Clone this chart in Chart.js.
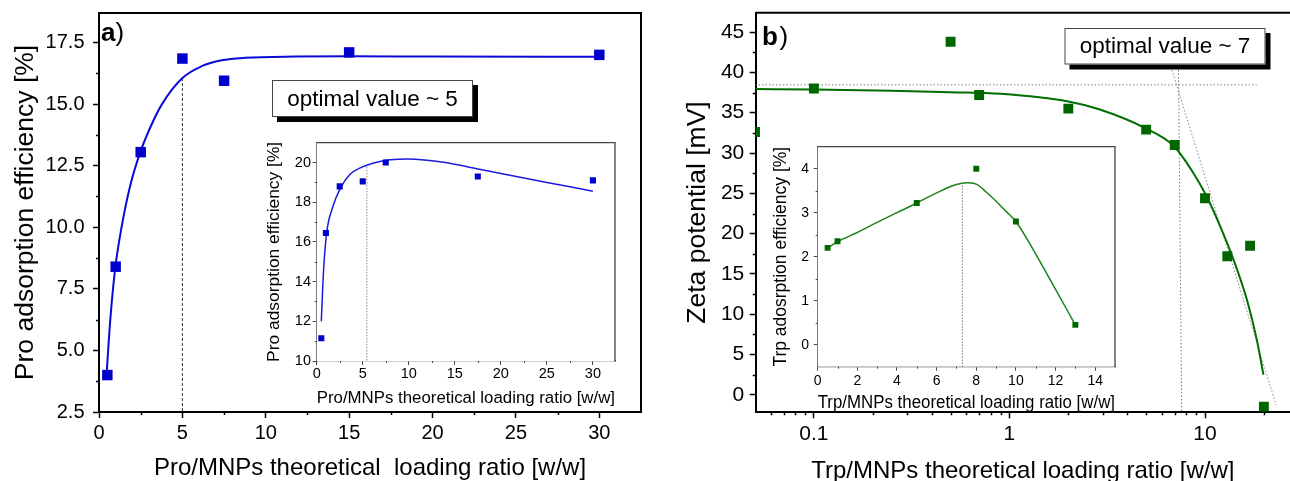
<!DOCTYPE html>
<html>
<head>
<meta charset="utf-8">
<title>Pro / Trp loading on MNPs</title>
<script src="https://cdn.jsdelivr.net/npm/chart.js@4.4.1/dist/chart.umd.min.js"></script>
<style>
  html, body { margin: 0; padding: 0; background: #fff; }
  body { position: relative; width: 1290px; height: 481px; overflow: hidden; }
  canvas { position: absolute; }
</style>
</head>
<body>
<canvas id="proChart" width="650" height="481" style="left:0;top:0"></canvas>
<canvas id="proInset" width="370" height="285" style="left:255px;top:130px"></canvas>
<canvas id="zetaChart" width="630" height="481" style="left:660px;top:0"></canvas>
<canvas id="trpInset" width="365" height="280" style="left:760px;top:135px"></canvas>
<script>
// a) Pro adsorption efficiency vs Pro/MNPs loading ratio
const proRatio = [0.5, 1, 2.5, 5, 7.5, 15, 30];
const proEfficiency = [4.0, 8.4, 13.05, 16.85, 15.95, 17.1, 17.0];
const proFitRatio = [0.46, 0.66, 0.96, 1.36, 1.86, 2.46, 3.06, 3.76, 5.0, 6.16, 7.36, 8.76, 11.76, 15, 20, 30.2];
const proFitEff = [4.07, 6.1, 8.27, 10.03, 11.66, 13.02, 14.03, 14.98, 16.06, 16.54, 16.78, 16.88, 16.93, 16.94, 16.93, 16.92];
const proOptimum = [5, 5];
const proOptimumEff = [16.06, 2.5];
const proXTicks = [0, 5, 10, 15, 20, 25, 30];
const proYTicks = [2.5, 5, 7.5, 10, 12.5, 15, 17.5];

// a) inset
const proInsetRatio = [0.5, 1, 2.5, 5, 7.5, 17.5, 30];
const proInsetEff = [11.15, 16.45, 18.8, 19.05, 20.0, 19.3, 19.1];
const proInsetFitRatio = [0.5, 0.75, 1.08, 1.7, 2.56, 3.6, 4.9, 6, 7, 8, 9.8, 12, 14, 17.5, 20, 25, 30];
const proInsetFitEff = [12.0, 14.6, 16.45, 17.7, 18.7, 19.4, 19.77, 19.95, 20.07, 20.14, 20.18, 20.12, 20.0, 19.68, 19.45, 19.0, 18.55];
const proInsetOptimum = [5.45, 5.45];
const proInsetOptimumEff = [19.78, 10];
const proInsetXTicks = [0, 5, 10, 15, 20, 25, 30];
const proInsetYTicks = [10, 12, 14, 16, 18, 20];

// b) zeta potential vs Trp/MNPs loading ratio (log x)
const trpRatio = [0.05, 0.1, 0.5, 0.7, 2, 5, 7, 10, 13, 17, 20];
const zeta = [32.6, 38.0, 43.8, 37.2, 35.5, 32.9, 31.0, 24.4, 17.2, 18.5, -1.45];
const zetaFitRatio = [0.05, 0.1, 0.25, 0.5, 0.9, 2, 2.9, 4.94, 6.9, 8.73, 10.2, 11.96, 14.0, 16.38, 18.42, 19.9];
const zetaFit = [37.93, 37.88, 37.72, 37.55, 37.35, 36.4, 35.4, 33.1, 30.9, 27.5, 24.6, 20.9, 16.75, 11.8, 6.8, 2.5];
const plateauRatio = [0.05, 18.4];
const plateauZeta = [38.45, 38.45];
const optimumRatio = [7.32, 7.6];
const optimumZeta = [40.3, -2.15];
const tangentRatio = [6.77, 23.1];
const tangentZeta = [40.3, -1.24];
const trpXTicks = [0.1, 1, 10];
const zetaYTicks = [0, 5, 10, 15, 20, 25, 30, 35, 40, 45];

// b) inset
const trpInsetRatio = [0.5, 1, 5, 8, 10, 13];
const trpInsetEff = [2.2, 2.35, 3.22, 4.0, 2.8, 0.45];
const trpInsetFitRatio = [0.5, 1, 2, 3, 4, 5, 6, 7, 7.5, 8, 8.5, 9, 9.5, 10, 11, 12, 13];
const trpInsetFit = [2.2, 2.34, 2.55, 2.78, 3.0, 3.22, 3.45, 3.64, 3.68, 3.65, 3.47, 3.26, 3.03, 2.8, 2.06, 1.26, 0.45];
const trpInsetOptimum = [7.3, 7.3];
const trpInsetOptimumEff = [3.62, -0.5];
const trpInsetXTicks = [0, 2, 4, 6, 8, 10, 12, 14];
const trpInsetYTicks = [0, 1, 2, 3, 4];

const FONT = "'Liberation Sans', Arial, Helvetica, sans-serif";
const BLUE = '#0000cc';
const GREEN = '#006600';

const toPts = (xs, ys) => xs.map((x, i) => ({ x: x, y: ys[i] }));

function markers(xs, ys, color, r, clip) {
  const ds = {
    data: toPts(xs, ys), showLine: false, pointStyle: 'rect',
    pointRadius: r, pointHoverRadius: r, pointBorderWidth: 0,
    backgroundColor: color, borderColor: color
  };
  if (clip !== undefined) ds.clip = clip;
  return ds;
}

function curve(xs, ys, color, width) {
  return {
    data: toPts(xs, ys), showLine: true, pointRadius: 0, pointHoverRadius: 0,
    borderColor: color, borderWidth: width, fill: false,
    cubicInterpolationMode: 'monotone'
  };
}

function dotted(xs, ys, color, dash) {
  return {
    data: toPts(xs, ys), showLine: true, pointRadius: 0, pointHoverRadius: 0,
    borderColor: color, borderWidth: 1, borderDash: dash, fill: false, tension: 0
  };
}

function axis(o) {
  const vertical = o.position === 'left';
  return {
    type: o.type || 'linear',
    position: o.position,
    min: o.min,
    max: o.max,
    afterBuildTicks: (s) => { s.ticks = o.ticks.map((v) => ({ value: v })); },
    afterFit: (s) => {
      if (vertical) s.width = o.size; else s.height = o.size;
      s.paddingTop = 0; s.paddingBottom = 0; s.paddingLeft = 0; s.paddingRight = 0;
    },
    border: { display: true, color: o.color, width: o.lineWidth },
    grid: {
      display: true, drawOnChartArea: false, drawTicks: true,
      tickLength: o.tickLength, tickWidth: o.tickWidth, tickColor: o.color, color: o.color
    },
    ticks: {
      autoSkip: false, maxRotation: 0, minRotation: 0, padding: o.tickPad, color: '#000',
      font: { family: FONT, size: o.tickSize },
      callback: o.format || ((v) => String(v))
    },
    title: {
      display: true, text: o.title, color: '#000',
      font: { family: FONT, size: o.titleSize, lineHeight: 1 },
      padding: vertical ? { top: o.titlePad, bottom: 0 } : { top: 0, bottom: o.titlePad }
    }
  };
}

// frame sides, minor ticks, panel letter and the "optimal value" note
const decor = {
  id: 'decor',
  beforeDatasetsDraw(chart, args, o) {
    if (!o.fillArea) return;
    const a = chart.chartArea;
    const ctx = chart.ctx;
    ctx.save();
    ctx.fillStyle = '#fff';
    ctx.fillRect(a.left, a.top, a.right - a.left, a.bottom - a.top);
    ctx.restore();
  },
  afterDraw(chart, args, o) {
    const { ctx, chartArea: a, scales } = chart;
    ctx.save();
    ctx.strokeStyle = o.color;
    ctx.lineWidth = o.frameWidth;
    ctx.beginPath();
    ctx.moveTo(a.left, a.top);
    ctx.lineTo(a.right, a.top);
    if (o.rightSide) ctx.lineTo(a.right, a.bottom + o.frameWidth / 2);
    ctx.stroke();

    ctx.lineWidth = o.tickWidth;
    ctx.beginPath();
    (o.minorX || []).forEach((v) => {
      const px = Math.round(scales.x.getPixelForValue(v)) + 0.5;
      ctx.moveTo(px, a.bottom);
      ctx.lineTo(px, a.bottom + o.minorLen);
    });
    (o.minorY || []).forEach((v) => {
      const py = Math.round(scales.y.getPixelForValue(v)) + 0.5;
      ctx.moveTo(a.left, py);
      ctx.lineTo(a.left - o.minorLen, py);
    });
    ctx.stroke();

    if (o.letter) {
      const l = o.letter;
      ctx.fillStyle = '#000';
      ctx.textAlign = 'left';
      ctx.textBaseline = 'alphabetic';
      ctx.font = 'bold ' + l.size + 'px ' + FONT;
      ctx.fillText(l.text, l.x, l.y);
      const w = ctx.measureText(l.text).width;
      ctx.font = l.size + 'px ' + FONT;
      ctx.fillText(')', l.x + w + l.gap, l.y);
    }

    if (o.note) {
      const n = o.note;
      ctx.fillStyle = '#000';
      ctx.fillRect(n.x + 5, n.y + 5, n.w, n.h);
      ctx.fillStyle = '#fff';
      ctx.fillRect(n.x, n.y, n.w, n.h);
      ctx.strokeStyle = '#444';
      ctx.lineWidth = 1;
      ctx.strokeRect(n.x + 0.5, n.y + 0.5, n.w - 1, n.h - 1);
      ctx.fillStyle = '#000';
      ctx.font = n.size + 'px ' + FONT;
      ctx.textAlign = 'center';
      ctx.textBaseline = 'middle';
      ctx.fillText(n.text, n.x + n.w / 2, n.y + n.h / 2 + 1);
    }
    ctx.restore();
  }
};
Chart.register(decor);

function baseOptions(padding, scales, decorOpts) {
  return {
    responsive: false,
    animation: false,
    devicePixelRatio: 1,
    layout: { padding: padding, autoPadding: false },
    scales: scales,
    plugins: { legend: { display: false }, tooltip: { enabled: false }, decor: decorOpts }
  };
}

document.addEventListener('DOMContentLoaded', () => {
  // ---- a) main
  new Chart(document.getElementById('proChart'), {
    type: 'scatter',
    data: {
      datasets: [
        markers(proRatio, proEfficiency, BLUE, 7.4),
        curve(proFitRatio, proFitEff, '#0a0ad8', 2),
        dotted(proOptimum, proOptimumEff, '#333', [3, 2])
      ]
    },
    options: baseOptions({ left: 0, top: 13, right: 9, bottom: 0 }, {
      x: axis({
        position: 'bottom', min: 0, max: 32.5, ticks: proXTicks, size: 69,
        color: '#000', lineWidth: 2, tickLength: 6, tickWidth: 1.5, tickPad: 3, tickSize: 20,
        title: 'Pro/MNPs theoretical  loading ratio [w/w]', titleSize: 24, titlePad: 1
      }),
      y: axis({
        position: 'left', min: 2.5, max: 18.7, ticks: proYTicks, size: 99,
        color: '#000', lineWidth: 2, tickLength: 6, tickWidth: 1.5, tickPad: 8.5, tickSize: 20,
        format: (v) => v.toFixed(1),
        title: 'Pro adsorption efficiency [%]', titleSize: 26.5, titlePad: 12
      })
    }, {
      color: '#000', frameWidth: 2, rightSide: true, tickWidth: 1.5, minorLen: 3,
      minorX: [2.5, 7.5, 12.5, 17.5, 22.5, 27.5],
      minorY: [3.75, 6.25, 8.75, 11.25, 13.75, 16.25],
      letter: { text: 'a', x: 101, y: 41, size: 26, gap: 0 },
      note: { x: 272, y: 80, w: 201, h: 37, size: 22.5, text: 'optimal value ~ 5' }
    })
  });

  // ---- a) inset
  new Chart(document.getElementById('proInset'), {
    type: 'scatter',
    data: {
      datasets: [
        markers(proInsetRatio, proInsetEff, BLUE, 4.3),
        curve(proInsetFitRatio, proInsetFitEff, '#1a1ae0', 1.5),
        dotted(proInsetOptimum, proInsetOptimumEff, '#888', [1.5, 1.5])
      ]
    },
    options: baseOptions({ left: 0, top: 12.7, right: 10, bottom: 0 }, {
      x: axis({
        position: 'bottom', min: 0, max: 32.4, ticks: proInsetXTicks, size: 54,
        color: '#444', lineWidth: 1.3, tickLength: 4, tickWidth: 1, tickPad: 0.5, tickSize: 14.5,
        title: 'Pro/MNPs theoretical loading ratio [w/w]', titleSize: 17.4, titlePad: 8
      }),
      y: axis({
        position: 'left', min: 10, max: 21, ticks: proInsetYTicks, size: 61.7,
        color: '#444', lineWidth: 1.3, tickLength: 4, tickWidth: 1, tickPad: 1.7, tickSize: 14.5,
        title: 'Pro adsorption efficiency [%]', titleSize: 17.4, titlePad: 10.3
      })
    }, {
      color: '#444', frameWidth: 1.3, rightSide: true, fillArea: true, tickWidth: 1, minorLen: 2,
      minorX: [2.5, 7.5, 12.5, 17.5, 22.5, 27.5],
      minorY: [11, 13, 15, 17, 19]
    })
  });

  // ---- b) main
  new Chart(document.getElementById('zetaChart'), {
    type: 'scatter',
    data: {
      datasets: [
        markers(trpRatio, zeta, GREEN, 7, 0),
        curve(zetaFitRatio, zetaFit, '#006e00', 2),
        dotted(plateauRatio, plateauZeta, '#888', [1.5, 2]),
        dotted(optimumRatio, optimumZeta, '#777', [1.5, 2]),
        dotted(tangentRatio, tangentZeta, '#888', [1.5, 2])
      ]
    },
    options: baseOptions({ left: 0, top: 12.7, right: 0, bottom: 0 }, {
      x: axis({
        type: 'logarithmic', position: 'bottom', min: 0.0504, max: 27.2, ticks: trpXTicks, size: 68.7,
        color: '#000', lineWidth: 2, tickLength: 6, tickWidth: 1.5, tickPad: 3, tickSize: 21,
        title: 'Trp/MNPs theoretical loading ratio [w/w]', titleSize: 24, titlePad: -2
      }),
      y: axis({
        position: 'left', min: -2.15, max: 47.4, ticks: zetaYTicks, size: 95.7,
        color: '#000', lineWidth: 2, tickLength: 6, tickWidth: 1.5, tickPad: 5.4, tickSize: 21,
        title: 'Zeta potential [mV]', titleSize: 26.5, titlePad: 24.5
      })
    }, {
      color: '#000', frameWidth: 2, rightSide: false, tickWidth: 1.5, minorLen: 3,
      minorX: [0.06, 0.07, 0.08, 0.09, 0.2, 0.3, 0.4, 0.5, 0.6, 0.7, 0.8, 0.9, 2, 3, 4, 5, 6, 7, 8, 9, 20],
      minorY: [2.5, 7.5, 12.5, 17.5, 22.5, 27.5, 32.5, 37.5, 42.5],
      letter: { text: 'b', x: 102, y: 45, size: 26, gap: 1.5 },
      note: { x: 404.5, y: 28, w: 201, h: 36.5, size: 22.5, text: 'optimal value ~ 7' }
    })
  });

  // ---- b) inset
  new Chart(document.getElementById('trpInset'), {
    type: 'scatter',
    data: {
      datasets: [
        markers(trpInsetRatio, trpInsetEff, GREEN, 4.2),
        curve(trpInsetFitRatio, trpInsetFit, '#1a841a', 1.5),
        dotted(trpInsetOptimum, trpInsetOptimumEff, '#777', [1.5, 1.5])
      ]
    },
    options: baseOptions({ left: 0, top: 11.7, right: 10, bottom: 0 }, {
      x: axis({
        position: 'bottom', min: 0, max: 15, ticks: trpInsetXTicks, size: 48.3,
        color: '#444', lineWidth: 1.3, tickLength: 4, tickWidth: 1, tickPad: 1.7, tickSize: 14,
        title: 'Trp/MNPs theoretical loading ratio [w/w]', titleSize: 17.5, titlePad: 3
      }),
      y: axis({
        position: 'left', min: -0.5, max: 4.5, ticks: trpInsetYTicks, size: 57.7,
        color: '#444', lineWidth: 1.3, tickLength: 4, tickWidth: 1, tickPad: 4.7, tickSize: 14,
        title: 'Trp adosrption efficiency [%]', titleSize: 17.5, titlePad: 12
      })
    }, {
      color: '#444', frameWidth: 1.3, rightSide: true, fillArea: true, tickWidth: 1, minorLen: 2,
      minorX: [1, 3, 5, 7, 9, 11, 13],
      minorY: [0.5, 1.5, 2.5, 3.5]
    })
  });
});
</script>
</body>
</html>
